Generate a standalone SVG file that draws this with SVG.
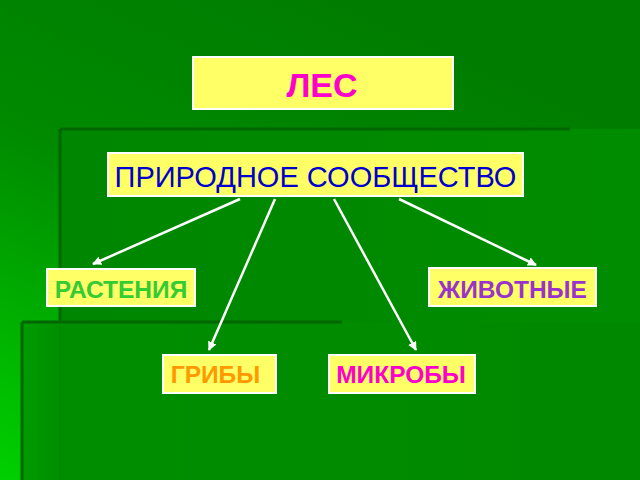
<svg xmlns="http://www.w3.org/2000/svg" width="640" height="480" viewBox="0 0 640 480">
  <defs>
    <linearGradient id="bg" x1="0.6" y1="0" x2="0" y2="1">
      <stop offset="0" stop-color="#007c00"/>
      <stop offset="0.45" stop-color="#008a00"/>
      <stop offset="1" stop-color="#00d000"/>
    </linearGradient>
    <linearGradient id="p1" x1="0" y1="0" x2="1" y2="0">
      <stop offset="0" stop-color="#008600"/>
      <stop offset="1" stop-color="#008c00"/>
    </linearGradient>
    <linearGradient id="p2" x1="0" y1="0" x2="1" y2="0">
      <stop offset="0" stop-color="#009c00"/>
      <stop offset="0.06" stop-color="#008e00"/>
      <stop offset="1" stop-color="#008800"/>
    </linearGradient>
    <marker id="ah" viewBox="0 0 10 10" refX="9" refY="5" markerWidth="3.6" markerHeight="3.6" orient="auto" markerUnits="strokeWidth">
      <path d="M0,0 L10,5 L0,10 z" fill="#ffffff"/>
    </marker>
    <style>
      .box { fill: #ffff66; stroke: #ffffff; stroke-width: 2; }
      .lbl { font-family: "Liberation Sans", Arial, sans-serif; font-weight: bold; text-anchor: middle; }
      .edge { stroke: #ffffff; stroke-width: 2.5; fill: none; marker-end: url(#ah); }
      .dark { stroke: #006600; stroke-width: 3; }
    </style>
  </defs>

  <g id="background">
    <rect x="0" y="0" width="640" height="480" fill="url(#bg)"/>
    <rect x="60" y="129" width="580" height="351" fill="url(#p1)"/>
    <line class="dark" x1="60" y1="129" x2="570" y2="129"/>
    <line class="dark" x1="60" y1="129" x2="60" y2="322"/>
    <rect x="22" y="322" width="618" height="158" fill="url(#p2)"/>
    <line x1="60" y1="322" x2="60" y2="480" stroke="#008200" stroke-width="1"/>
    <line class="dark" x1="22" y1="322" x2="342" y2="322"/>
    <line class="dark" x1="22" y1="322" x2="22" y2="480"/>
  </g>

  <g id="connectors">
    <line class="edge" x1="240" y1="199" x2="93" y2="264"/>
    <line class="edge" x1="275" y1="199" x2="209" y2="350"/>
    <line class="edge" x1="334" y1="199" x2="416" y2="350"/>
    <line class="edge" x1="399" y1="199" x2="536" y2="265"/>
  </g>

  <g id="les">
    <rect class="box" x="193" y="57" width="260" height="52"/>
    <text class="lbl" x="322" y="97" font-size="34" fill="#ff00cc">ЛЕС</text>
  </g>

  <g id="community">
    <rect class="box" x="108" y="153" width="415" height="43"/>
    <text class="lbl" x="315.5" y="187" font-size="29" style="font-weight:normal" fill="#0000cc">ПРИРОДНОЕ СООБЩЕСТВО</text>
  </g>

  <g id="plants">
    <rect class="box" x="47" y="269" width="148" height="37"/>
    <text class="lbl" x="121" y="298" font-size="24.5" fill="#33cc33">РАСТЕНИЯ</text>
  </g>

  <g id="animals">
    <rect class="box" x="429" y="268" width="167" height="38"/>
    <text class="lbl" x="512.5" y="298" font-size="24.5" fill="#9933cc">ЖИВОТНЫЕ</text>
  </g>

  <g id="fungi">
    <rect class="box" x="163" y="355" width="113" height="38"/>
    <text class="lbl" x="215.5" y="383" font-size="24.5" fill="#ff9900">ГРИБЫ</text>
  </g>

  <g id="microbes">
    <rect class="box" x="329" y="355" width="146" height="38"/>
    <text class="lbl" x="401" y="383" font-size="24.5" fill="#ff00cc">МИКРОБЫ</text>
  </g>
</svg>
